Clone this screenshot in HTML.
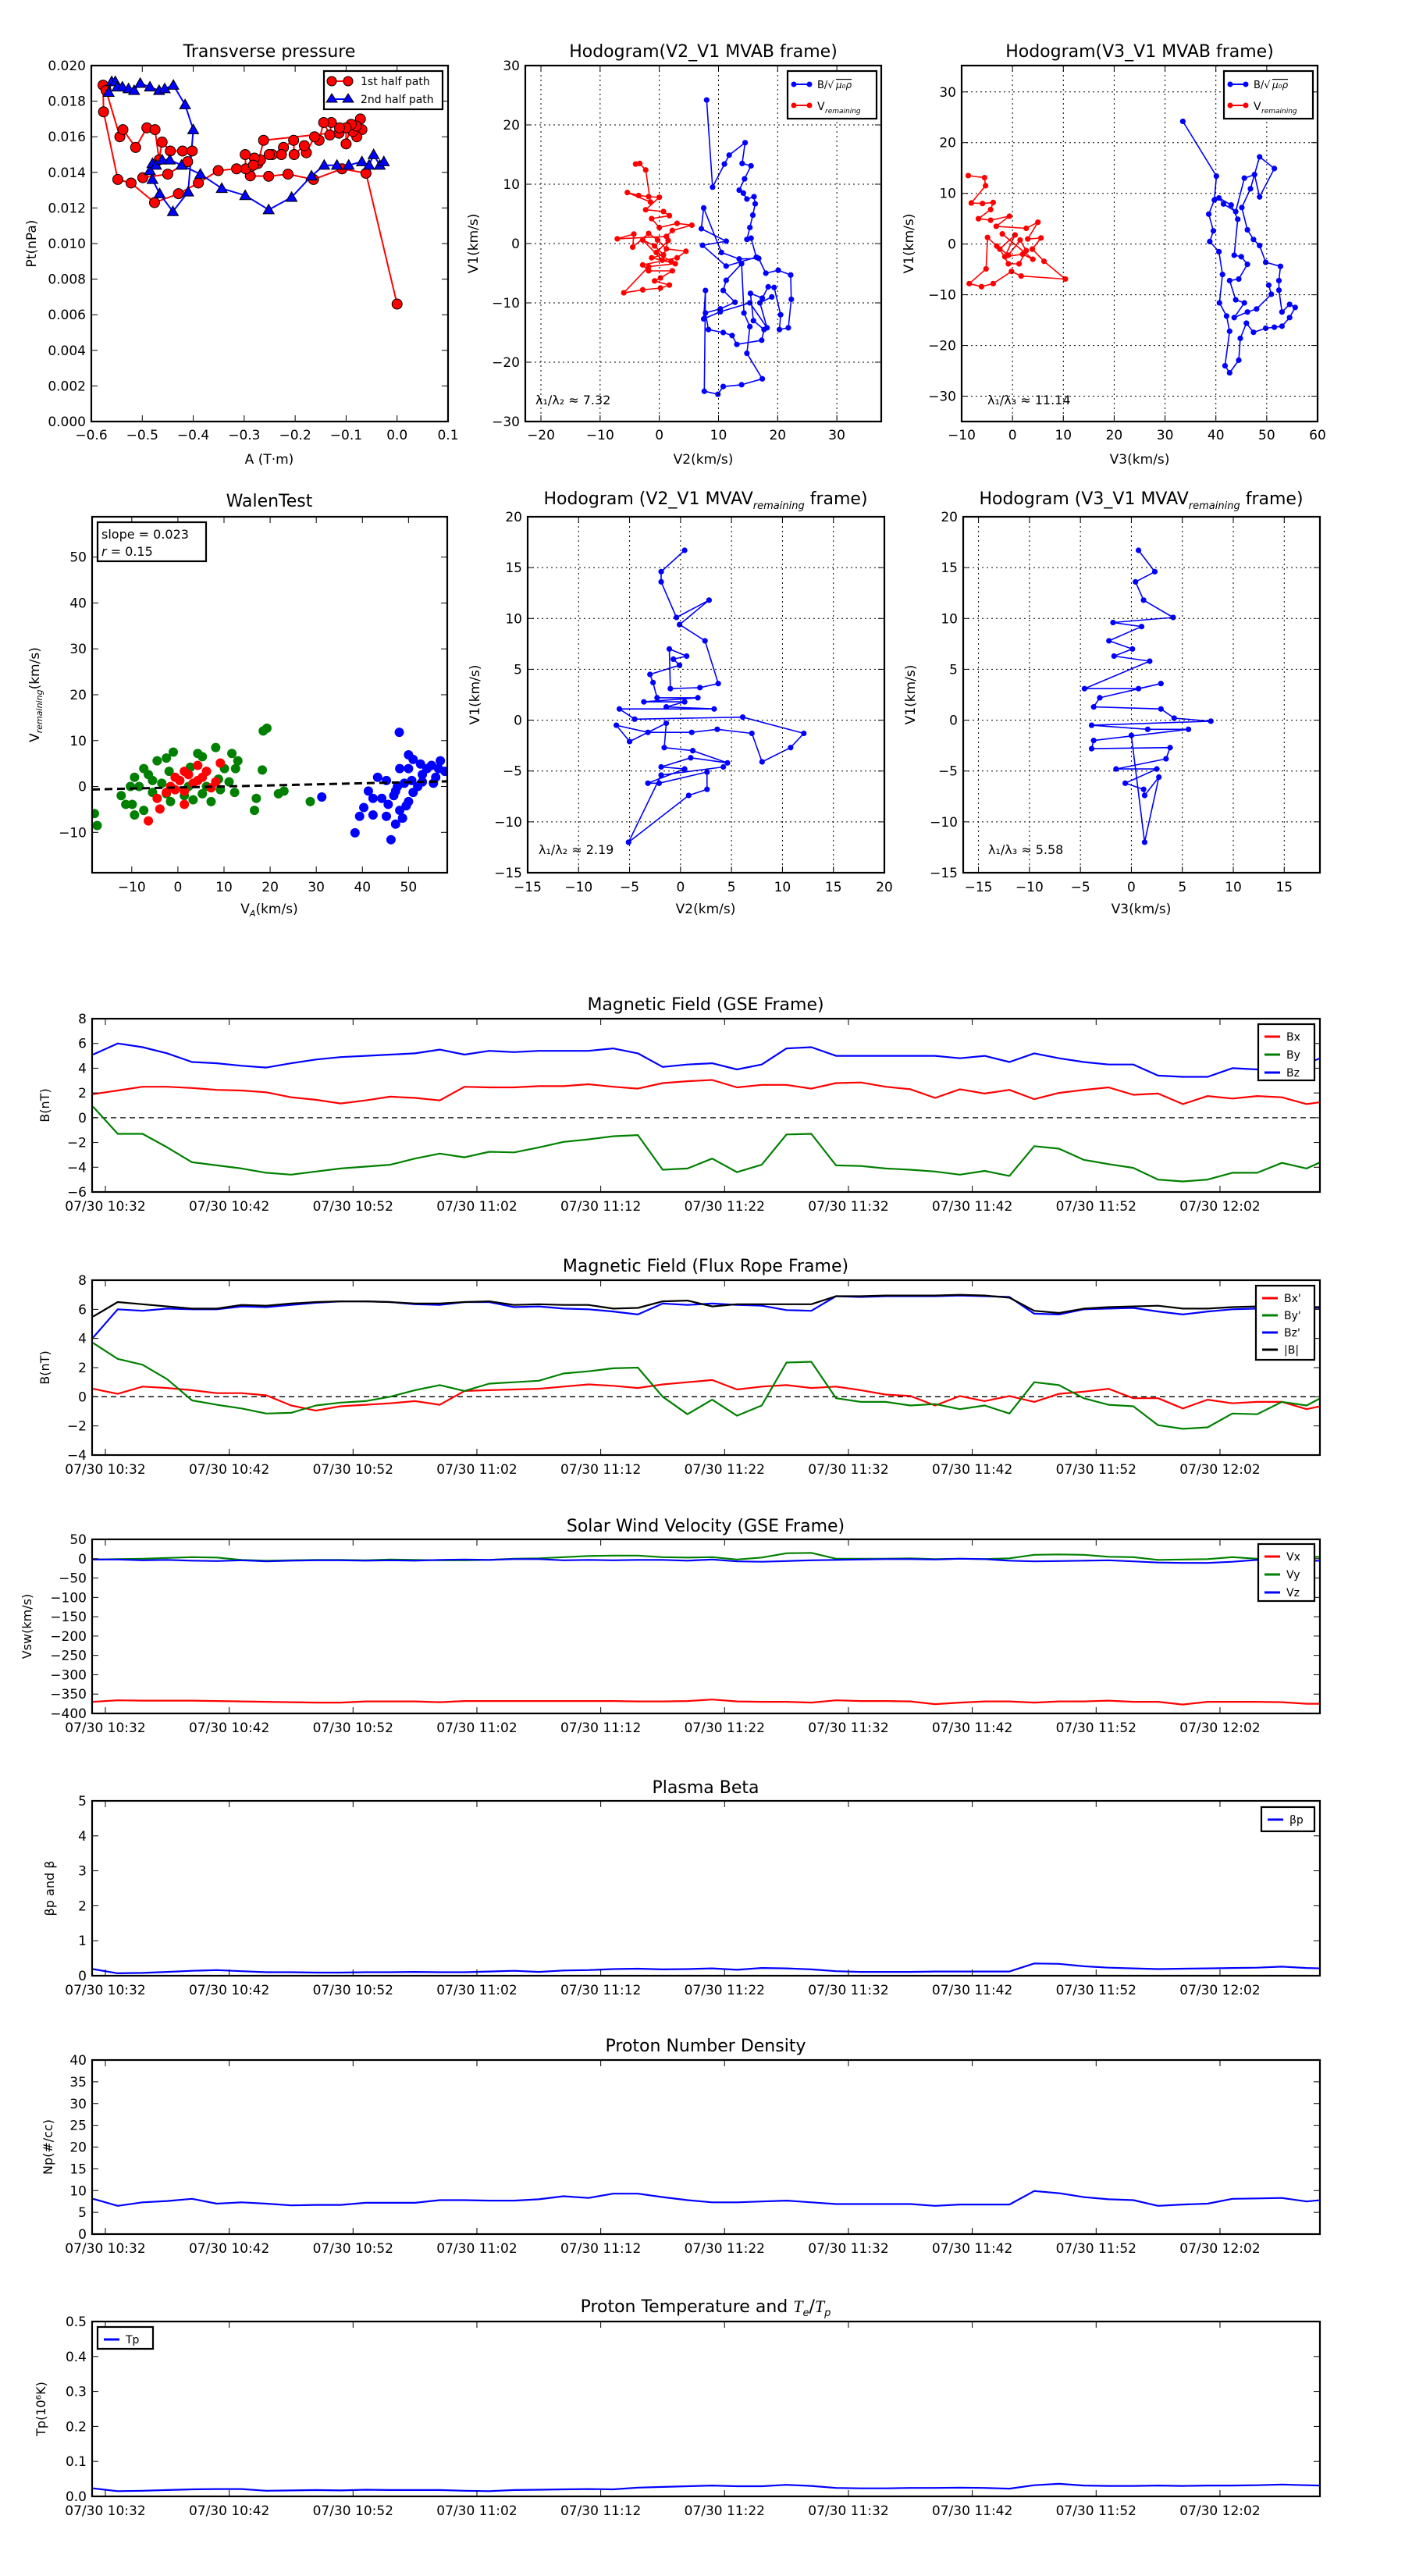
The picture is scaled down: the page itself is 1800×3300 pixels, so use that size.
<!DOCTYPE html>
<html><head><meta charset="utf-8"><title>Flux rope analysis</title>
<style>
html,body{margin:0;padding:0;background:#fff;}
svg{display:block;}
text{font-family:"DejaVu Sans","Liberation Sans",sans-serif;fill:#000;}
</style></head>
<body>
<svg id="fig" xmlns="http://www.w3.org/2000/svg" width="1800" height="3300" viewBox="0 0 1800 3300">
<rect x="0" y="0" width="1800" height="3300" fill="#fff"/>
</svg>
<script>
// ---------- data: transverse pressure ----------
const pt1A=[0,-0.061,-0.108,-0.164,-0.214,-0.252,-0.288,-0.273,-0.262,-0.069,-0.072,-0.079,-0.087,-0.080,-0.090,-0.100,-0.100,-0.114,-0.113,-0.129,-0.132,-0.144,-0.153,-0.162,-0.178,-0.182,-0.202,-0.203,-0.223,-0.227,-0.245,-0.251,-0.268,-0.280,-0.298,-0.297,-0.282,-0.315,-0.351,-0.390,-0.429,-0.476,-0.522,-0.548,-0.576,-0.577,-0.571,-0.544,-0.538,-0.513,-0.491,-0.475,-0.467,-0.461,-0.445,-0.421,-0.402,-0.411,-0.450,-0.499];
const pt1P=[0.0066,0.01395,0.0142,0.0136,0.0139,0.01378,0.0138,0.0145,0.0158,0.0164,0.0170,0.0160,0.0163,0.0166,0.0167,0.0156,0.0165,0.0162,0.0165,0.0168,0.0161,0.0168,0.0158,0.0160,0.0151,0.0155,0.0150,0.0158,0.0154,0.0150,0.0150,0.0150,0.0147,0.0148,0.0150,0.0142,0.0144,0.0142,0.0141,0.0134,0.0128,0.0123,0.0134,0.0136,0.0174,0.0189,0.0186,0.0160,0.0164,0.0154,0.0165,0.0164,0.0147,0.0157,0.0152,0.0152,0.0152,0.0146,0.0139,0.0137];
const pt2A=[-0.566,-0.560,-0.553,-0.549,-0.539,-0.527,-0.516,-0.504,-0.485,-0.467,-0.456,-0.439,-0.416,-0.400,-0.410,-0.440,-0.466,-0.480,-0.485,-0.480,-0.473,-0.461,-0.446,-0.423,-0.386,-0.344,-0.298,-0.252,-0.207,-0.168,-0.143,-0.118,-0.095,-0.069,-0.055,-0.046,-0.034,-0.026];
const pt2P=[0.0185,0.0191,0.0191,0.0188,0.0188,0.0187,0.0186,0.0190,0.0188,0.0186,0.0187,0.0189,0.0178,0.0164,0.0129,0.0118,0.0128,0.0136,0.0141,0.0145,0.0144,0.0147,0.0147,0.0144,0.0139,0.0131,0.0127,0.0119,0.0126,0.0138,0.0144,0.0144,0.0144,0.0146,0.0144,0.0150,0.0144,0.0146];
// ---------- data: MVAB hodograms ----------
const h2BlueV2=[8.0,9.0,11.0,11.8,14.5,14.0,15.5,14.4,13.5,14.2,14.8,16.0,16.2,15.8,15.3,14.8,15.5,16.4,11.3,7.3,11.3,7.1,7.5,10.5,13.5,16.8,18.0,20.1,22.2,22.3,21.8,20.3,20.5,19.4,18.4,17.4,15.4,15.9,17.7,17.3,13.1,12.3,10.8,8.3,7.8,10.3,12.8,10.8,11.3,13.9,14.3,15.3,14.8,17.4,13.9,10.8,9.9,7.6,7.8,7.5,10.3,15.3,18.2,17.0,19.0];
const h2BlueV1=[24.2,9.5,13.4,14.9,17.0,13.5,13.1,10.9,9.0,8.5,7.5,7.9,6.7,4.8,2.7,0.7,0.9,-2.3,-3.8,-0.3,0.4,2.5,6.0,-1.5,-2.6,-2.5,-5.0,-4.5,-5.3,-9.4,-14.2,-14.5,-12.0,-7.4,-7.3,-9.2,-8.4,-13.0,-14.5,-16.3,-17.0,-15.5,-15.0,-14.5,-11.7,-11.0,-9.9,-7.9,-6.2,-3.4,-11.7,-14.0,-18.5,-22.8,-23.8,-24.1,-25.4,-24.9,-7.9,-12.7,-11.5,-10.0,-14.2,-10.0,-9.0];
const h2RedV2=[-4.0,-3.3,-2.3,-1.5,-5.4,-3.5,-1.8,0.0,-2.3,0.7,1.7,-1.3,0.0,3.0,5.5,2.2,1.2,-7.1,-4.3,-4.5,-1.8,-0.3,1.2,4.5,3.0,-2.8,-1.8,2.2,0.2,-0.8,1.7,0.2,-2.8,-6.0,-1.8,2.7,-1.3,0.7,-0.8,-2.8,0.5,1.5,-0.5,2.0];
const h2RedV1=[13.4,13.5,12.4,7.0,8.6,8.1,7.9,7.8,5.7,5.4,4.7,4.2,2.7,3.4,3.1,2.2,1.2,0.8,1.6,-0.6,1.7,0.6,-0.9,-1.3,-2.4,-3.6,-4.6,-4.6,-5.8,-6.3,-7.0,-7.5,-7.8,-8.3,-3.9,-3.4,-2.4,-1.9,-0.4,0.6,-2.8,0.5,-1.5,-3.0];
const h3BlueV3=[33.5,40.1,39.7,38.6,39.5,38.8,40.6,41.3,40.7,42.1,42.7,41.8,42.7,44.5,44.8,46.0,47.4,49.8,51.5,53.0,54.5,55.6,54.5,53.0,52.4,52.4,52.7,49.8,48.6,47.4,46.2,45.1,46.8,48.6,51.5,48.6,47.6,45.6,43.9,41.5,40.6,43.0,44.3,43.6,45.0,46.2,44.5,42.7,43.9,45.6,43.6,46.2,48.0,50.9,50.4];
const h3BlueV1=[24.2,13.4,8.7,5.9,2.6,0.5,-1.5,-6.0,-11.6,-14.2,-17.2,-24.0,-25.4,-22.9,-18.6,-15.6,-17.4,-16.6,-16.4,-16.2,-14.5,-12.5,-11.9,-13.4,-9.1,-7.2,-4.4,-3.6,-0.3,0.9,2.8,7.2,10.9,17.2,14.9,9.3,13.7,13.0,6.4,7.9,9.1,7.7,4.9,-2.2,-2.5,-4.0,-6.9,-7.2,-11.0,-11.6,-14.5,-13.4,-12.8,-9.9,-8.1];
const h3RedV3=[-8.7,-5.5,-5.3,-8.1,-5.9,-3.8,-4.3,-6.7,-4.3,-0.6,-3.2,2.7,5.0,3.0,5.6,3.9,6.2,10.4,1.7,-0.2,-3.8,-6.1,-8.5,-5.2,-4.9,-3.1,-0.8,1.5,2.7,1.3,-0.8,-2.5,0.5,-1.5,2.0,4.0,-2.0];
const h3RedV1=[13.5,13.1,11.5,8.1,8.0,8.2,6.8,5.0,4.7,5.5,3.5,3.1,4.3,1.0,1.2,-1.0,-3.4,-6.9,-6.3,-5.4,-7.8,-8.4,-7.8,-4.9,1.3,-0.4,-2.2,0.8,-1.3,-3.9,-3.9,-1.0,1.8,-2.5,-2.0,-3.0,2.0];
// ---------- data: Walen test ----------
const walenBlueX=[48,50,51,52.6,48.1,55,56.9,43.3,41.3,42.3,40.3,39.4,38.4,46.2,47.2,45.2,48.1,50,51,49.1,53,55.9,57.9,46.8,44.2,45.6,50.7,52,54,56.5,49.5,42.3,47.2,53,50,47.6,45.2,48.7,31.2,55.4];
const walenBlueY=[11.8,6.9,5.9,4.9,3.9,4.6,5.6,2,-1,-2.6,-4.6,-6.5,-10.1,-11.6,-8.2,-6.5,-5.2,-3.3,-1.3,0.7,2.6,2,3.3,-2,-2.6,-3.9,1.3,0,3.9,3.9,-4.2,-6.2,-1,1,3.9,0,1.3,-6.9,-2.3,0.7];
const walenGreenX=[-18.1,-17.5,-12.3,-9.4,-9.9,-9.4,-7.4,-6.4,-4.5,-2.5,-1,-1.9,-3.5,-5.5,-1.6,1.4,2.7,4.3,5.3,8.2,10.1,11.7,13,12.5,11.1,12.3,9.2,7.2,3.3,18.3,18.5,19.3,16.6,17,21.8,23,28.7,-11.3,-8.4,-7.4,-5.5,0.4,6.2,2.3,8.8,5.3,-2.5,-10.3];
const walenGreenY=[-5.9,-8.5,-2,2,-3.9,-6.2,-5.2,2.6,5.6,6.2,7.5,3.3,0.7,-1.3,-3.3,-2,4.2,7.2,6.5,8.5,3.9,7.2,5.6,3.9,1,-1.3,-0.7,-3.3,-2.9,3.6,12.1,12.7,-5.2,-2.6,-1.6,-1,-3.3,-3.9,0,3.9,1.3,1.3,0,0,1.6,-1.6,-1.6,0];
const walenRedX=[-6.4,-3.9,1.4,9.2,4.3,2.3,0.4,-1.6,3.3,5.3,6.2,-2.5,-0.6,1.4,7.2,1.4,4.3,-0.6,8.2,-4.5];
const walenRedY=[-7.5,-4.9,-3.9,5.1,4.6,2.6,1.3,0,0.7,2,3.3,-1.3,-0.7,3.3,-0.3,-1,1.3,2,1,-2.6];
const walenFit=[0.023,-0.22];
// ---------- data: MVAV hodograms ----------
const m2V2=[0.4,-1.9,-1.9,-0.4,2.8,-0.1,2.4,3.7,1.9,-1.0,-1.1,0.6,-0.7,-0.1,-3.0,-2.7,-2.3,1.7,-3.6,0.4,-1.4,3.3,-6.0,-4.5,6.1,12.1,10.8,8.0,7.0,3.6,1.1,-3.2,-6.3,-5.0,-1.4,-1.6,1.2,4.6,1.0,-1.9,0.4,-3.2,-2.1,2.6,2.6,0.8,-5.1,-1.9,4.2];
const m2V1=[16.7,14.6,13.6,10.1,11.8,9.4,7.8,3.6,3.2,3.1,7.0,6.3,6.0,5.4,4.5,3.7,2.2,2.2,1.8,1.8,1.3,1.1,1.1,0.1,0.3,-1.3,-2.7,-4.1,-1.3,-0.9,-1.2,-1.2,-0.5,-2.1,-0.3,-2.7,-3.0,-4.2,-3.7,-4.6,-4.8,-6.2,-6.2,-5.1,-6.8,-7.4,-12.0,-5.4,-4.6];
const m3V3=[0.7,2.3,0.4,1.2,4.1,-1.8,1.0,-2.2,0.1,-1.7,1.8,-4.6,0.7,2.9,-3.1,-3.7,2.9,4.2,7.8,-3.9,1.6,5.6,-3.7,-3.9,3.8,3.4,-1.5,2.5,-0.6,1.2,1.3,2.7,1.3,0.0];
const m3V1=[16.7,14.6,13.6,11.8,10.1,9.6,9.2,7.8,7.0,6.3,5.8,3.1,3.1,3.6,2.2,1.3,1.1,0.2,-0.1,-0.5,-0.9,-0.9,-2.0,-2.8,-2.7,-3.8,-4.8,-4.8,-6.2,-6.8,-7.4,-5.6,-12.0,-1.5];
// ---------- data: time series (minutes after 10:31) ----------
const tMin=[0,2,4,6,8,10,12,14,16,18,20,22,24,26,28,30,32,34,36,38,40,42,44,46,48,50,52,54,56,58,60,62,64,66,68,70,72,74,76,78,80,82,84,86,88,90,92,94,96,98,99.1];
const timeTicks=[1,11,21,31,41,51,61,71,81,91];
const timeLabels=["07/30 10:32","07/30 10:42","07/30 10:52","07/30 11:02","07/30 11:12","07/30 11:22","07/30 11:32","07/30 11:42","07/30 11:52","07/30 12:02"];
const gseBx=[1.9,2.2,2.5,2.5,2.4,2.25,2.2,2.05,1.65,1.45,1.15,1.4,1.7,1.6,1.4,2.5,2.45,2.45,2.55,2.55,2.7,2.5,2.35,2.8,2.95,3.05,2.45,2.65,2.65,2.35,2.8,2.85,2.5,2.3,1.6,2.3,1.95,2.25,1.5,2.0,2.25,2.45,1.85,1.95,1.1,1.75,1.55,1.75,1.65,1.1,1.25];
const gseBy=[0.9,-1.3,-1.3,-2.4,-3.6,-3.85,-4.1,-4.45,-4.6,-4.35,-4.1,-3.95,-3.8,-3.3,-2.9,-3.2,-2.75,-2.8,-2.4,-1.95,-1.75,-1.5,-1.4,-4.2,-4.1,-3.3,-4.4,-3.8,-1.35,-1.3,-3.85,-3.9,-4.1,-4.2,-4.35,-4.6,-4.3,-4.7,-2.3,-2.5,-3.4,-3.75,-4.05,-5.0,-5.15,-5.0,-4.45,-4.45,-3.65,-4.1,-3.6];
const gseBz=[5.1,6.0,5.7,5.2,4.5,4.4,4.2,4.05,4.4,4.7,4.9,5.0,5.1,5.2,5.5,5.1,5.4,5.3,5.4,5.4,5.4,5.6,5.2,4.1,4.3,4.4,3.9,4.3,5.6,5.7,5.0,5.0,5.0,5.0,5.0,4.8,5.0,4.5,5.2,4.8,4.5,4.3,4.3,3.4,3.3,3.3,4.0,3.9,4.0,4.4,4.8];
const frBx=[0.55,0.2,0.7,0.6,0.45,0.25,0.25,0.1,-0.6,-0.95,-0.65,-0.55,-0.45,-0.3,-0.55,0.4,0.45,0.5,0.55,0.7,0.85,0.75,0.6,0.85,1.0,1.15,0.5,0.7,0.8,0.6,0.7,0.45,0.15,0.05,-0.6,0.05,-0.3,0.05,-0.35,0.2,0.35,0.55,-0.1,-0.1,-0.8,-0.2,-0.45,-0.35,-0.35,-0.85,-0.65];
const frBy=[3.7,2.6,2.2,1.2,-0.25,-0.55,-0.8,-1.15,-1.1,-0.6,-0.4,-0.3,0.0,0.45,0.8,0.4,0.9,1.0,1.1,1.6,1.75,1.95,2.0,0.0,-1.2,-0.2,-1.3,-0.6,2.35,2.4,-0.1,-0.35,-0.35,-0.6,-0.5,-0.85,-0.6,-1.15,1.0,0.8,-0.1,-0.55,-0.65,-1.95,-2.2,-2.1,-1.15,-1.2,-0.35,-0.6,-0.1];
const frBz=[4.05,6.0,5.9,6.05,6.0,6.0,6.2,6.15,6.3,6.45,6.55,6.55,6.5,6.35,6.3,6.5,6.5,6.15,6.2,6.05,6.0,5.85,5.65,6.4,6.3,6.4,6.3,6.25,5.95,5.9,6.9,6.85,6.9,6.9,6.9,6.95,6.9,6.85,5.7,5.65,6.0,6.05,6.1,5.85,5.65,5.85,6.0,6.05,6.05,6.1,6.1];
const frBmag=[5.5,6.5,6.35,6.2,6.05,6.05,6.3,6.25,6.4,6.5,6.55,6.55,6.5,6.4,6.4,6.5,6.55,6.3,6.35,6.3,6.3,6.05,6.1,6.55,6.6,6.2,6.35,6.35,6.35,6.35,6.9,6.9,6.95,6.95,6.95,7.0,6.95,6.8,5.9,5.75,6.05,6.15,6.2,6.25,6.05,6.05,6.15,6.2,6.15,6.15,6.15];
const velVx=[-370,-366,-367,-367,-367,-368,-369,-370,-371,-372,-372,-369,-369,-369,-371,-368,-368,-368,-368,-368,-368,-368,-369,-369,-368,-364,-369,-370,-370,-372,-366,-368,-368,-369,-376,-372,-369,-369,-372,-369,-369,-367,-370,-370,-377,-370,-370,-370,-371,-375,-375];
const velVy=[-2,-1,0,2,4,3,-3,-5,-4,-3,-3,-4,-2,-3,-4,-4,-3,0,1,4,7,8,8,4,3,4,-2,3,14,15,0,0,0,1,-1,0,-1,1,10,11,10,5,4,-3,-2,-1,4,0,1,3,5];
const velVz=[-2,-2,-4,-3,-5,-6,-4,-7,-5,-4,-4,-5,-4,-5,-3,-2,-3,-1,-1,-4,-3,-4,-3,-3,-5,-2,-7,-8,-6,-4,-3,-2,-1,-1,-2,0,-1,-5,-7,-6,-5,-4,-7,-10,-11,-11,-8,-3,-4,-6,-5];
const betaP=[0.19,0.07,0.08,0.11,0.14,0.16,0.13,0.10,0.10,0.09,0.09,0.10,0.10,0.11,0.10,0.10,0.12,0.14,0.11,0.15,0.16,0.19,0.20,0.18,0.19,0.21,0.17,0.22,0.21,0.18,0.13,0.11,0.11,0.11,0.12,0.12,0.12,0.12,0.35,0.34,0.27,0.23,0.21,0.19,0.20,0.21,0.22,0.23,0.26,0.22,0.21];
const densNp=[8.1,6.5,7.3,7.6,8.1,7.0,7.3,7.0,6.6,6.7,6.7,7.2,7.2,7.2,7.8,7.8,7.7,7.7,8.0,8.7,8.3,9.3,9.3,8.5,7.8,7.3,7.3,7.5,7.7,7.3,6.9,6.9,6.9,6.9,6.5,6.8,6.8,6.8,9.9,9.4,8.5,8.0,7.8,6.5,6.8,7.0,8.1,8.2,8.3,7.5,7.8];
const tempTp=[0.023,0.015,0.016,0.018,0.020,0.021,0.021,0.016,0.017,0.018,0.017,0.019,0.018,0.018,0.018,0.016,0.015,0.018,0.019,0.020,0.021,0.020,0.025,0.027,0.029,0.031,0.029,0.029,0.033,0.030,0.024,0.023,0.023,0.024,0.024,0.025,0.024,0.022,0.032,0.036,0.031,0.030,0.030,0.031,0.030,0.031,0.031,0.032,0.034,0.032,0.031];

// ---------- helpers ----------
const NS='http://www.w3.org/2000/svg';
const svg=document.getElementById('fig');
function mk(tag,attrs,parent){const e=document.createElementNS(NS,tag);for(const k in attrs)e.setAttribute(k,attrs[k]);(parent||svg).appendChild(e);return e;}
function txt(s,x,y,size,anchor,parent,extra){const t=mk('text',Object.assign({x:x,y:y,'font-size':size,'text-anchor':anchor||'middle'},extra||{}),parent);t.textContent=s;return t;}
function span(t,s,attrs){const e=mk('tspan',attrs||{},t);e.textContent=s;return e;}
let clipN=0;
function axes(name,x0,y0,x1,y1,xmin,xmax,ymin,ymax){
  const g=mk('g',{});
  
  
  const id='clip'+(clipN++);
  const cp=mk('clipPath',{id:id},g);mk('rect',{x:x0,y:y0,width:x1-x0,height:y1-y0},cp);
  const data=mk('g',{'clip-path':'url(#'+id+')'},g);
  
  
  return {g:g,data:data,x0:x0,y0:y0,x1:x1,y1:y1,
    sx:v=>x0+(v-xmin)/(xmax-xmin)*(x1-x0),
    sy:v=>y1-(v-ymin)/(ymax-ymin)*(y1-y0)};
}
function frame(ax){
  const r=mk('rect',{x:ax.x0,y:ax.y0,width:ax.x1-ax.x0,height:ax.y1-ax.y0,fill:'none',stroke:'#000','stroke-width':2.2},ax.g);
  
  
}
function xTicks(ax,vals,labels,grid,size,off){
  vals.forEach((v,i)=>{const x=ax.sx(v);
    if(grid)mk('line',{x1:x,x2:x,y1:ax.y0,y2:ax.y1,stroke:'#000','stroke-width':1,'stroke-dasharray':'2,4'},ax.g);
    mk('line',{x1:x,x2:x,y1:ax.y1,y2:ax.y1-8,stroke:'#000','stroke-width':1},ax.g);
    mk('line',{x1:x,x2:x,y1:ax.y0,y2:ax.y0+8,stroke:'#000','stroke-width':1},ax.g);
    const t=txt(labels[i],x,ax.y1+(off||23),size||17,'middle',ax.g);
    
    
  });
}
function yTicks(ax,vals,labels,grid,size){
  vals.forEach((v,i)=>{const y=ax.sy(v);
    if(grid)mk('line',{x1:ax.x0,x2:ax.x1,y1:y,y2:y,stroke:'#000','stroke-width':1,'stroke-dasharray':'2,4'},ax.g);
    mk('line',{x1:ax.x0,x2:ax.x0+8,y1:y,y2:y,stroke:'#000','stroke-width':1},ax.g);
    mk('line',{x1:ax.x1,x2:ax.x1-8,y1:y,y2:y,stroke:'#000','stroke-width':1},ax.g);
    const t=txt(labels[i],ax.x0-7,y+6,size||17,'end',ax.g);
    
    
  });
}
function poly(ax,xs,ys,color,w,name){
  const pts=xs.map((x,i)=>ax.sx(x).toFixed(1)+','+ax.sy(ys[i]).toFixed(1)).join(' ');
  const p=mk('polyline',{points:pts,fill:'none',stroke:color,'stroke-width':w,'stroke-linejoin':'round'},ax.data);
  
  
  return p;
}
function dots(ax,xs,ys,color,r,name,stroke){
  const g=mk('g',{},ax.data);
  
  
  xs.forEach((x,i)=>{const c=mk('circle',{cx:ax.sx(x),cy:ax.sy(ys[i]),r:r,fill:color,stroke:stroke||'none','stroke-width':1},g);
    
    });
}
function tris(ax,xs,ys,color,r,name){
  const g=mk('g',{},ax.data);
  
  
  xs.forEach((x,i)=>{const cx=ax.sx(x),cy=ax.sy(ys[i]);
    const p=mk('polygon',{points:`${cx},${cy-r} ${cx+r},${cy+r*0.75} ${cx-r},${cy+r*0.75}`,fill:color,stroke:'#000','stroke-width':1},g);
    
    });
}
function title(s,x,y,size){const t=txt(s,x,y,size||22,'middle');return t;}
function ylab(s,x,y,size){const t=txt(s,x,y,size||17,'middle',svg,{transform:`rotate(-90 ${x} ${y})`});return t;}
function xlab(s,x,y,size){const t=txt(s,x,y,size||17,'middle');return t;}
function legendBox(x,y,w,h,name){const r=mk('rect',{x:x,y:y,width:w,height:h,fill:'#fff',stroke:'#000','stroke-width':2.2});return r;}

// ---------- Panel 1: transverse pressure ----------
(function(){
  const ax=axes('transverse-pressure-chart',117,84,574,540,-0.6,0.1,0,0.02);
  poly(ax,pt1A,pt1P,'#f00',2,'first-half-path-line');
  poly(ax,pt2A,pt2P,'#00f',2,'second-half-path-line');
  dots(ax,pt1A,pt1P,'#f00',6.5,'first-half-path-markers','#000');
  tris(ax,pt2A,pt2P,'#00f',7,'second-half-path-markers');
  xTicks(ax,[-0.6,-0.5,-0.4,-0.3,-0.2,-0.1,0,0.1],['\u22120.6','\u22120.5','\u22120.4','\u22120.3','\u22120.2','\u22120.1','0.0','0.1']);
  yTicks(ax,[0,0.002,0.004,0.006,0.008,0.010,0.012,0.014,0.016,0.018,0.020],['0.000','0.002','0.004','0.006','0.008','0.010','0.012','0.014','0.016','0.018','0.020']);
  frame(ax);
  title('Transverse pressure',345,73,22);
  xlab('A (T\u00b7m)',345,594,17);
  ylab('Pt(nPa)',46,312,17);
  legendBox(415,91,152,49,'pressure-legend');
  mk('line',{x1:425,x2:446,y1:104,y2:104,stroke:'#f00','stroke-width':2});
  mk('circle',{cx:425,cy:104,r:6,fill:'#f00',stroke:'#000'});mk('circle',{cx:446,cy:104,r:6,fill:'#f00',stroke:'#000'});
  let t=txt('1st half path',462,109,14,'start');
  mk('line',{x1:425,x2:446,y1:127,y2:127,stroke:'#00f','stroke-width':2});
  mk('polygon',{points:'425,120 432,131 418,131',fill:'#00f',stroke:'#000'});mk('polygon',{points:'446,120 453,131 439,131',fill:'#00f',stroke:'#000'});
  t=txt('2nd half path',462,132,14,'start');
})();

function hodoLegend(x,y){
  legendBox(x,y,114,61,'hodogram-legend');
  mk('line',{x1:x+8,x2:x+28,y1:y+17,y2:y+17,stroke:'#00f','stroke-width':2});
  mk('circle',{cx:x+8,cy:y+17,r:3.5,fill:'#00f'});mk('circle',{cx:x+28,cy:y+17,r:3.5,fill:'#00f'});
  let t=txt('B/\u221a',x+38,y+22,13,'start');
  const s=mk('text',{x:x+62,y:y+22,'font-size':12,'font-style':'italic','text-decoration':'overline'});s.textContent='\u03bc\u2080\u03c1';
  mk('line',{x1:x+8,x2:x+28,y1:y+44,y2:y+44,stroke:'#f00','stroke-width':2});
  mk('circle',{cx:x+8,cy:y+44,r:3.5,fill:'#f00'});mk('circle',{cx:x+28,cy:y+44,r:3.5,fill:'#f00'});
  t=txt('V',x+38,y+50,14,'start');
  const s2=mk('text',{x:x+48,y:y+54,'font-size':9,'font-style':'italic'});s2.textContent='remaining';
}
function mvavTitle(pre,x,y){
  const t=mk('text',{x:x,y:y,'font-size':22,'text-anchor':'middle'});
  
  
  span(t,pre);
  span(t,'remaining',{'font-size':13,'font-style':'italic',dy:6});
  span(t,' frame)',{dy:-6});
}
// ---------- Panel 2: V2-V1 MVAB ----------
(function(){
  const ax=axes('hodogram-v2-v1-mvab',673,84,1129,540,-22.64,37.5,-30,30);
  xTicks(ax,[-20,-10,0,10,20,30],['\u221220','\u221210','0','10','20','30'],true);
  yTicks(ax,[-30,-20,-10,0,10,20,30],['\u221230','\u221220','\u221210','0','10','20','30'],true);
  poly(ax,h2BlueV2,h2BlueV1,'#00f',1.6,'b-alfven-line');
  dots(ax,h2BlueV2,h2BlueV1,'#00f',3.6,'b-alfven-markers');
  poly(ax,h2RedV2,h2RedV1,'#f00',1.6,'v-remaining-line');
  dots(ax,h2RedV2,h2RedV1,'#f00',3.6,'v-remaining-markers');
  frame(ax);
  title('Hodogram(V2_V1 MVAB frame)',901,73,22);
  xlab('V2(km/s)',901,594,17);ylab('V1(km/s)',612,312,17);
  hodoLegend(1009,91);
  const t=txt('\u03bb\u2081/\u03bb\u2082 \u2248 7.32',686,518,16,'start');
})();
// ---------- Panel 3: V3-V1 MVAB ----------
(function(){
  const ax=axes('hodogram-v3-v1-mvab',1232,84,1688,540,-10,60,-35,35.2);
  xTicks(ax,[-10,0,10,20,30,40,50,60],['\u221210','0','10','20','30','40','50','60'],true);
  yTicks(ax,[-30,-20,-10,0,10,20,30],['\u221230','\u221220','\u221210','0','10','20','30'],true);
  poly(ax,h3BlueV3,h3BlueV1,'#00f',1.6,'b-alfven-line');
  dots(ax,h3BlueV3,h3BlueV1,'#00f',3.6,'b-alfven-markers');
  poly(ax,h3RedV3,h3RedV1,'#f00',1.6,'v-remaining-line');
  dots(ax,h3RedV3,h3RedV1,'#f00',3.6,'v-remaining-markers');
  frame(ax);
  title('Hodogram(V3_V1 MVAB frame)',1460,73,22);
  xlab('V3(km/s)',1460,594,17);ylab('V1(km/s)',1170,312,17);
  hodoLegend(1568,91);
  const t=txt('\u03bb\u2081/\u03bb\u2083 \u2248 11.14',1265,518,16,'start');
})();
// ---------- Panel 4: Walen test ----------
(function(){
  const ax=axes('walen-test-chart',118,662,573,1118,-18.6,58.4,-18.8,58.8);
  xTicks(ax,[-10,0,10,20,30,40,50],['\u221210','0','10','20','30','40','50'],false,17,24);
  yTicks(ax,[-10,0,10,20,30,40,50],['\u221210','0','10','20','30','40','50']);
  dots(ax,walenGreenX,walenGreenY,'#008000',6,'walen-green-points');
  dots(ax,walenRedX,walenRedY,'#f00',6,'walen-red-points');
  dots(ax,walenBlueX,walenBlueY,'#00f',6,'walen-blue-points');
  const xa=-18.6,xb=58.4;
  const fl=mk('line',{x1:ax.sx(xa),y1:ax.sy(walenFit[0]*xa+walenFit[1]),x2:ax.sx(xb),y2:ax.sy(walenFit[0]*xb+walenFit[1]),stroke:'#000','stroke-width':3,'stroke-dasharray':'10,6'},ax.data);
  
  
  frame(ax);
  title('WalenTest',345,649,22);
  const xl=mk('text',{x:345,y:1170,'font-size':17,'text-anchor':'middle'});
  
  
  span(xl,'V');span(xl,'A',{'font-size':11,'font-style':'italic',dy:4});span(xl,'(km/s)',{dy:-4});
  const yl=mk('text',{x:50,y:890,'font-size':17,'text-anchor':'middle',transform:'rotate(-90 50 890)'});
  
  
  span(yl,'V');span(yl,'remaining',{'font-size':11,'font-style':'italic',dy:4});span(yl,'(km/s)',{dy:-4});
  legendBox(125,669,139,50,'walen-stats-box');
  let t=txt('slope = 0.023',130,690,16,'start');
  t=mk('text',{x:130,y:712,'font-size':16});
  
  
  span(t,'r',{'font-style':'italic'});span(t,' = 0.15');
})();
// ---------- Panel 5/6: MVAV hodograms ----------
(function(){
  const ax=axes('hodogram-v2-v1-mvav',676,662,1133,1118,-15,20,-15,20);
  xTicks(ax,[-15,-10,-5,0,5,10,15,20],['\u221215','\u221210','\u22125','0','5','10','15','20'],true,17,24);
  yTicks(ax,[-15,-10,-5,0,5,10,15,20],['\u221215','\u221210','\u22125','0','5','10','15','20'],true);
  poly(ax,m2V2,m2V1,'#00f',1.6,'mvav-v2-line');
  dots(ax,m2V2,m2V1,'#00f',3.6,'mvav-v2-markers');
  frame(ax);
  mvavTitle('Hodogram (V2_V1 MVAV',904,646);
  xlab('V2(km/s)',904,1170,17);ylab('V1(km/s)',614,890,17);
  const t=txt('\u03bb\u2081/\u03bb\u2082 \u2248 2.19',690,1094,16,'start');
})();
(function(){
  const ax=axes('hodogram-v3-v1-mvav',1234,662,1691,1118,-16.5,18.5,-15,20);
  xTicks(ax,[-15,-10,-5,0,5,10,15],['\u221215','\u221210','\u22125','0','5','10','15'],true,17,24);
  yTicks(ax,[-15,-10,-5,0,5,10,15,20],['\u221215','\u221210','\u22125','0','5','10','15','20'],true);
  poly(ax,m3V3,m3V1,'#00f',1.6,'mvav-v3-line');
  dots(ax,m3V3,m3V1,'#00f',3.6,'mvav-v3-markers');
  frame(ax);
  mvavTitle('Hodogram (V3_V1 MVAV',1462,646);
  xlab('V3(km/s)',1462,1170,17);ylab('V1(km/s)',1172,890,17);
  const t=txt('\u03bb\u2081/\u03bb\u2083 \u2248 5.58',1266,1094,16,'start');
})();

// ---------- time series panels ----------
function tsPanel(name,top,bot,ymin,ymax,yt,yl,ttl,ttlY,ylabel,ylX,series,leg,zero){
  const ax=axes(name,118,top,1691,bot,-0.07,99.07,ymin,ymax);
  xTicks(ax,timeTicks,timeLabels,false,17,24);
  yTicks(ax,yt,yl);
  if(zero){const z=mk('line',{x1:ax.x0,x2:ax.x1,y1:ax.sy(0),y2:ax.sy(0),stroke:'#000','stroke-width':1.3,'stroke-dasharray':'7,5'},ax.data);}
  series.forEach(s=>poly(ax,tMin,s.v,s.c,2.2,s.n+'-line'));
  frame(ax);
  if(ttl)title(ttl,904,ttlY,22);
  ylab(ylabel,ylX,(top+bot)/2,16);
  if(leg){legendBox(leg[0],leg[1],leg[2],leg[3],name+'-legend');
    series.forEach((s,i)=>{const yy=leg[1]+16+i*leg[4];
      mk('line',{x1:leg[0]+8,x2:leg[0]+28,y1:yy,y2:yy,stroke:s.c,'stroke-width':3});
      const t=txt(s.l,leg[0]+36,yy+5,14,'start');
      
      });}
}
tsPanel('magnetic-field-gse-chart',1305,1527,-6,8,[-6,-4,-2,0,2,4,6,8],['\u22126','\u22124','\u22122','0','2','4','6','8'],'Magnetic Field (GSE Frame)',1294,'B(nT)',63,
  [{v:gseBx,c:'#f00',n:'bx',l:'Bx'},{v:gseBy,c:'#008000',n:'by',l:'By'},{v:gseBz,c:'#00f',n:'bz',l:'Bz'}],[1612,1312,72,72,23],true);
tsPanel('magnetic-field-flux-rope-chart',1640,1864,-4,8,[-4,-2,0,2,4,6,8],['\u22124','\u22122','0','2','4','6','8'],'Magnetic Field (Flux Rope Frame)',1629,'B(nT)',63,
  [{v:frBx,c:'#f00',n:'bx-prime',l:"Bx'"},{v:frBy,c:'#008000',n:'by-prime',l:"By'"},{v:frBz,c:'#00f',n:'bz-prime',l:"Bz'"},{v:frBmag,c:'#000',n:'b-magnitude',l:'|B|'}],[1609,1647,75,95,22],true);
tsPanel('solar-wind-velocity-chart',1972,2195,-400,50,[-400,-350,-300,-250,-200,-150,-100,-50,0,50],['\u2212400','\u2212350','\u2212300','\u2212250','\u2212200','\u2212150','\u2212100','\u221250','0','50'],'Solar Wind Velocity (GSE Frame)',1962,'Vsw(km/s)',40,
  [{v:velVx,c:'#f00',n:'vx',l:'Vx'},{v:velVy,c:'#008000',n:'vy',l:'Vy'},{v:velVz,c:'#00f',n:'vz',l:'Vz'}],[1612,1978,72,73,23],false);
tsPanel('plasma-beta-chart',2307,2531,0,5,[0,1,2,3,4,5],['0','1','2','3','4','5'],'Plasma Beta',2297,'\u03b2p and \u03b2',69,
  [{v:betaP,c:'#00f',n:'beta-p',l:'\u03b2p'}],[1616,2315,68,31,0],false);
tsPanel('proton-density-chart',2639,2862,0,40,[0,5,10,15,20,25,30,35,40],['0','5','10','15','20','25','30','35','40'],'Proton Number Density',2628,'Np(#/cc)',67,
  [{v:densNp,c:'#00f',n:'np',l:'Np'}],null,false);
tsPanel('proton-temperature-chart',2974,3198,0,0.5,[0,0.1,0.2,0.3,0.4,0.5],['0.0','0.1','0.2','0.3','0.4','0.5'],null,0,'Tp(10\u2076K)',58,
  [{v:tempTp,c:'#00f',n:'tp',l:'Tp'}],[125,2981,71,28,0],false);
(function(){
  const t=mk('text',{x:904,y:2962,'font-size':22,'text-anchor':'middle'});
  
  
  span(t,'Proton Temperature and ');
  span(t,'T',{'font-style':'italic','font-family':'Liberation Serif, serif'});
  span(t,'e',{'font-size':13,'font-style':'italic',dy:5});
  span(t,'/',{dy:-5});
  span(t,'T',{'font-style':'italic','font-family':'Liberation Serif, serif'});
  span(t,'p',{'font-size':13,'font-style':'italic',dy:5});
})();
</script>
</body></html>
